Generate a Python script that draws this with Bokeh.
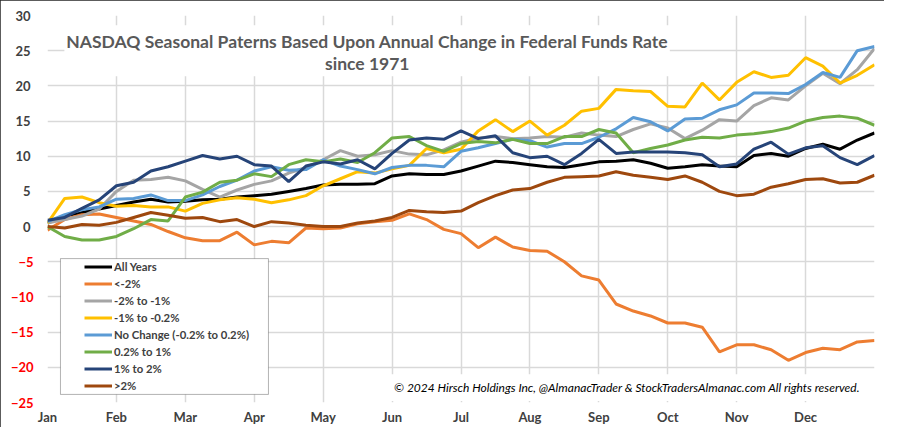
from bokeh.plotting import figure
from bokeh.models import FixedTicker, Label, BoxAnnotation, Legend, LegendItem, Range1d, LinearAxis
from bokeh.embed import file_html
from bokeh.resources import INLINE

month_labels = ["Jan", "Feb", "Mar", "Apr", "May", "Jun", "Jul", "Aug", "Sep", "Oct", "Nov", "Dec"]
y_ticks = [-25, -20, -15, -10, -5, 0, 5, 10, 15, 20, 25, 30]

# sample position: quarter-month steps through the year (0 = Jan 1, 12 = Dec 31)
x_pos = [i / 4 for i in range(49)]

all_years = [0.5, 1.5, 2.0, 2.5, 3.0, 3.5, 3.9, 3.5, 3.6, 3.8, 3.9, 4.2, 4.4, 4.6, 5.0, 5.4, 5.9, 6.0, 6.0, 6.1,
             7.2, 7.5, 7.4, 7.4, 7.9, 8.6, 9.3, 9.1, 8.8, 8.5, 8.4, 8.8, 9.2, 9.3, 9.5, 9.0, 8.3, 8.5, 8.8, 8.6,
             8.5, 10.1, 10.4, 10.0, 11.1, 11.7, 11.0, 12.3, 13.3]
lt_m2 = [-0.5, 1.0, 1.7, 1.8, 1.3, 0.8, 0.3, -0.7, -1.6, -2.0, -2.0, -0.8, -2.6, -2.1, -2.3, -0.2, -0.3, -0.2, 0.4, 0.7,
         0.9, 1.8, 1.0, -0.4, -1.0, -3.0, -1.5, -2.9, -3.4, -3.5, -5.0, -7.0, -7.6, -11.0, -12.0, -12.7, -13.7, -13.7,
         -14.3, -17.8, -16.8, -16.8, -17.5, -19.0, -17.9, -17.3, -17.5, -16.4, -16.2]
m2_m1 = [0.5, 1.0, 1.5, 2.5, 5.0, 6.6, 6.7, 7.0, 6.5, 5.3, 4.2, 5.2, 6.0, 6.5, 7.6, 8.4, 9.5, 10.8, 10.0, 10.2,
         10.8, 10.3, 10.2, 10.9, 12.0, 12.6, 12.8, 12.5, 12.6, 12.8, 12.7, 13.3, 13.0, 12.8, 13.8, 14.6, 14.0, 12.5,
         13.7, 15.2, 15.0, 17.2, 18.3, 18.0, 20.0, 21.8, 20.3, 22.3, 25.3]
m1_m02 = [0.5, 4.0, 4.2, 3.4, 2.9, 3.0, 2.8, 2.8, 2.2, 3.3, 3.8, 4.1, 3.9, 3.4, 3.8, 4.4, 5.8, 6.8, 7.8, 7.6,
          8.2, 8.7, 11.1, 10.5, 11.0, 13.6, 15.2, 13.5, 15.0, 13.0, 14.4, 16.4, 16.8, 19.5, 19.3, 19.2, 17.1, 17.0,
          20.4, 18.0, 20.5, 22.0, 21.2, 21.5, 24.0, 22.8, 20.4, 21.5, 23.0]
no_change = [0.7, 1.7, 2.4, 2.8, 3.9, 4.0, 4.5, 3.7, 3.7, 4.5, 5.7, 6.6, 7.9, 8.5, 8.0, 8.1, 9.5, 8.6, 8.1, 7.5,
             8.4, 8.7, 8.7, 8.5, 10.7, 11.2, 11.8, 12.4, 12.2, 11.3, 11.8, 11.8, 12.7, 13.9, 15.5, 14.9, 13.6, 15.3,
             15.4, 16.6, 17.3, 19.0, 19.0, 18.9, 20.2, 21.9, 21.2, 25.0, 25.6]
p02_p1 = [0.0, -1.4, -1.9, -1.9, -1.4, -0.3, 1.0, 0.8, 4.2, 4.9, 6.3, 6.6, 7.5, 7.1, 8.8, 9.5, 9.2, 9.6, 9.1, 10.5,
          12.6, 12.8, 11.5, 10.7, 11.8, 12.1, 11.9, 12.4, 11.8, 11.8, 12.8, 12.8, 13.8, 13.3, 10.5, 11.1, 11.6, 12.3,
          12.7, 12.6, 13.0, 13.2, 13.5, 14.0, 15.0, 15.5, 15.7, 15.4, 14.4]
p1_p2 = [0.9, 1.3, 2.6, 3.8, 5.8, 6.3, 7.9, 8.5, 9.3, 10.1, 9.6, 10.0, 8.8, 8.6, 6.4, 8.6, 9.2, 8.9, 9.5, 8.2,
         10.4, 12.3, 12.6, 12.4, 13.6, 12.5, 12.9, 10.5, 9.8, 10.0, 8.8, 10.4, 12.4, 10.4, 10.6, 10.6, 10.6, 10.5,
         10.2, 8.5, 8.9, 11.0, 12.0, 10.3, 11.2, 11.5, 9.8, 8.8, 10.1]
gt_p2 = [0.0, -0.2, 0.3, 0.2, 0.6, 1.3, 2.0, 1.6, 1.2, 1.3, 0.7, 1.0, 0.0, 0.7, 0.5, 0.2, 0.0, 0.0, 0.5, 0.8,
         1.3, 2.3, 2.1, 2.0, 2.2, 3.4, 4.4, 5.2, 5.4, 6.3, 7.0, 7.1, 7.2, 7.8, 7.3, 7.0, 6.7, 7.2, 6.3, 5.0,
         4.4, 4.6, 5.6, 6.1, 6.7, 6.8, 6.2, 6.3, 7.3]

series_names = ["All Years", "<-2%", "-2% to -1%", "-1% to -0.2%", "No Change (-0.2% to 0.2%)",
                "0.2% to 1%", "1% to 2%", ">2%"]
series_values = [all_years, lt_m2, m2_m1, m1_m02, no_change, p02_p1, p1_p2, gt_p2]
series_colors = ["#000000", "#ED7D31", "#A5A5A5", "#FFC000", "#5B9BD5", "#70AD47", "#264478", "#9E480E"]

FONT = "Lato"
LABEL_COLOR = "#404040"

p = figure(width=884, height=427, output_backend="svg", toolbar_location=None, title=None,
           x_range=Range1d(0, 12), y_range=Range1d(-25, 30),
           min_border_left=47, min_border_right=10, min_border_top=15, min_border_bottom=23)
p.styles = {"outline": "2px solid #262626", "outline-offset": "-2px", "vertical-align": "top"}
p.outline_line_color = None
p.background_fill_color = "white"
p.border_fill_color = "white"

# x axis
p.xaxis.ticker = FixedTicker(ticks=list(range(13)))
p.xaxis.major_label_overrides = {i: m for i, m in enumerate(month_labels)} | {12: ""}
p.xaxis.major_label_standoff = 6

# inner y axis: all gridline ticks, red labels for the negative values
p.yaxis.ticker = FixedTicker(ticks=y_ticks)
p.yaxis.major_label_overrides = {t: "" for t in y_ticks if t >= 0}
p.yaxis.major_label_standoff = 14

# outer y axis: dark labels for zero and positive values, pulled back over the inner one
pos_axis = LinearAxis(ticker=FixedTicker(ticks=[t for t in y_ticks if t >= 0]), major_label_standoff=-23)
p.add_layout(pos_axis, "left")

for ax in (p.xaxis[0], p.yaxis[0], pos_axis):
    ax.axis_line_color = None
    ax.major_tick_line_color = None
    ax.minor_tick_line_color = None
    ax.major_tick_out = 0
    ax.major_tick_in = 0
    ax.minor_tick_out = 0
    ax.minor_tick_in = 0
    ax.major_label_text_font = FONT
    ax.major_label_text_font_style = "bold"
    ax.major_label_text_font_size = "13px"
    ax.major_label_text_color = LABEL_COLOR
p.yaxis[0].major_label_text_color = "#FF0000"

p.xgrid.grid_line_color = "#D9D9D9"
p.ygrid.grid_line_color = "#D9D9D9"
p.xgrid.grid_line_width = 1.5
p.ygrid.grid_line_width = 1.5

renderers = []
for name, vals, col in zip(series_names, series_values, series_colors):
    r = p.line(x_pos, vals, line_color=col, line_width=3)
    renderers.append((name, r))

# title box
p.add_layout(BoxAnnotation(left=0.245, right=9.03, top=28.6, bottom=21.36, fill_color="white", fill_alpha=1,
                           line_color=None))
p.add_layout(Label(x=4.64, y=26.3, text="NASDAQ Seasonal Paterns Based Upon Annual Change in Federal Funds Rate",
                   text_align="center", text_baseline="middle", text_font=FONT, text_font_style="bold",
                   text_font_size="17.5px", text_color="#595959"))
p.add_layout(Label(x=4.64, y=23.2, text="since 1971", text_align="center", text_baseline="middle",
                   text_font=FONT, text_font_style="bold", text_font_size="17.5px", text_color="#595959"))

# copyright
p.add_layout(BoxAnnotation(left=4.95, right=11.88, top=-21.0, bottom=-24.8, fill_color="white", fill_alpha=1,
                           line_color=None))
p.add_layout(Label(x=8.41, y=-22.85,
                   text="\u00a9 2024 Hirsch Holdings Inc, @AlmanacTrader & StockTradersAlmanac.com All rights reserved.",
                   text_align="center", text_baseline="middle", text_font=FONT, text_font_style="italic",
                   text_font_size="12px", text_color="#000000"))

# legend
p.add_layout(BoxAnnotation(left=0.188, right=3.206, top=-4.55, bottom=-23.85, fill_color="white", fill_alpha=1,
                           line_color="#000000", line_width=1))
legend = Legend(items=[LegendItem(label=n, renderers=[r]) for n, r in renderers],
                location=(37, 8), padding=1, margin=0, spacing=0, glyph_width=28, glyph_height=17,
                label_height=17, label_standoff=2, border_line_color=None, background_fill_alpha=0,
                label_text_font=FONT, label_text_font_style="bold", label_text_font_size="11.3px",
                label_text_color=LABEL_COLOR)
p.add_layout(legend)

open("out.html", "w").write(file_html(p, INLINE))
